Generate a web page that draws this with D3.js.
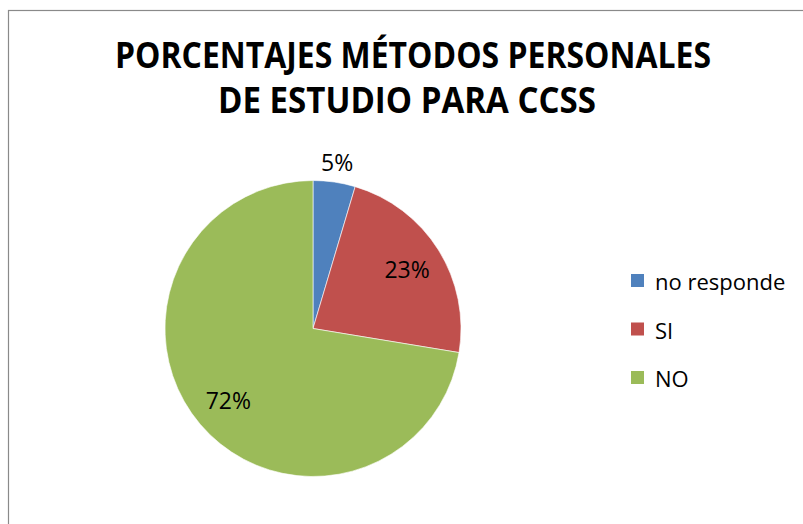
<!DOCTYPE html>
<html>
<head>
<meta charset="utf-8">
<script src="https://cdn.jsdelivr.net/npm/d3@7"></script>
<style>
  body { margin: 0; background: #fff; }
  text { font-family: "Open Sans", "Liberation Sans", sans-serif; fill: #000; }
</style>
</head>
<body>
<script>
var categories = ["no responde", "SI", "NO"];
var values = [4.6, 23.0, 72.4];
var colors = ["#4F81BD", "#C0504D", "#9BBB59"];
var titleLines = ["PORCENTAJES MÉTODOS PERSONALES", "DE ESTUDIO PARA CCSS"];

var w = 803;
var h = 524;

var svg = d3.select("body")
  .append("svg")
  .attr("width", w)
  .attr("height", h);

// chart area border (runs off the right and bottom edges)
svg.append("rect")
  .attr("x", 8.5)
  .attr("y", 10.5)
  .attr("width", 820)
  .attr("height", 540)
  .attr("fill", "#fff")
  .attr("stroke", "#8a8a8a")
  .attr("stroke-width", 1.2);

// title
var titleWidths = [596, 378];
svg.selectAll(".title")
  .data(titleLines)
  .enter()
  .append("text")
  .classed("title", true)
  .attr("x", function(d, i) { return i == 0 ? 115 : 218; })
  .attr("y", function(d, i) { return 68 + i * 45; })
  .attr("textLength", function(d, i) { return titleWidths[i]; })
  .attr("lengthAdjust", "spacingAndGlyphs")
  .style("font-size", "35px")
  .style("font-weight", 700)
  .text(function(d) { return d; });

// pie
var cx = 313;
var cy = 328.5;
var radius = 148;

var pie = d3.pie()
  .sort(null)
  .value(function(d) { return d; });

var arcs = pie(values);

var arc = d3.arc()
  .innerRadius(0)
  .outerRadius(radius);

var g = svg.append("g")
  .attr("transform", "translate(" + cx + ", " + cy + ")");

g.selectAll(".slice")
  .data(arcs)
  .enter()
  .append("path")
  .classed("slice", true)
  .attr("d", arc)
  .attr("fill", function(d, i) { return colors[i]; })
  .attr("stroke", "#fff")
  .attr("stroke-width", 0.6);

var inArc = d3.arc().innerRadius(radius * 0.75).outerRadius(radius * 0.75);
var outArc = d3.arc().innerRadius(radius * 1.13).outerRadius(radius * 1.13);

g.selectAll(".lbl")
  .data(arcs)
  .enter()
  .append("text")
  .classed("lbl", true)
  .attr("transform", function(d) {
    var c = d.data < 10 ? outArc.centroid(d) : inArc.centroid(d);
    return "translate(" + c[0] + ", " + c[1] + ")";
  })
  .attr("text-anchor", "middle")
  .attr("dy", "0.36em")
  .style("font-size", "23px")
  .text(function(d) { return Math.round(d.data) + "%"; });

// legend
var legend = svg.selectAll(".legend")
  .data(categories)
  .enter()
  .append("g")
  .classed("legend", true)
  .attr("transform", function(d, i) { return "translate(631, " + (274 + i * 48.5) + ")"; });

legend.append("rect")
  .attr("width", 13)
  .attr("height", 13)
  .attr("fill", function(d, i) { return colors[i]; });

legend.append("text")
  .attr("x", 24)
  .attr("y", 16)
  .style("font-size", "22px")
  .text(function(d) { return d; });
</script>
</body>
</html>
